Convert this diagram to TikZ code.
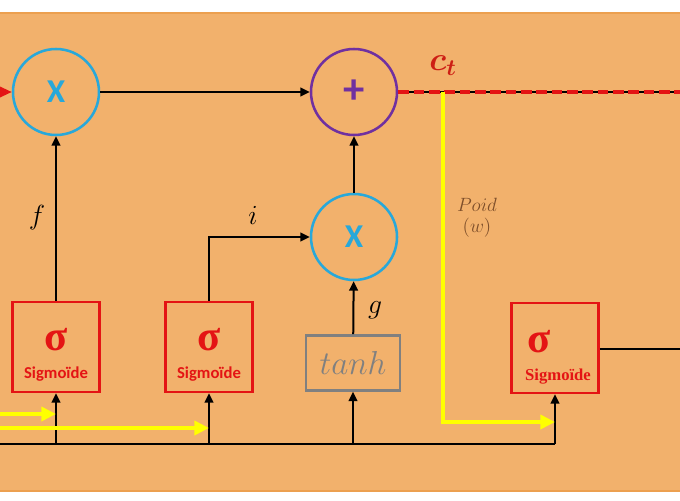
\documentclass[tikz,border=0pt]{standalone}
\usepackage{fontspec}
\usepackage{amsmath}
\usepackage{bm}
\newfontfamily\carlito{Carlito}
\newfontfamily\libserif{Liberation Serif}
\usetikzlibrary{arrows.meta}
\definecolor{bgorange}{RGB}{242,177,108}
\definecolor{bgedge}{RGB}{236,160,80}
\definecolor{cblue}{RGB}{40,168,218}
\definecolor{cpurple}{RGB}{112,48,160}
\definecolor{cred}{RGB}{228,20,20}
\definecolor{cdred}{RGB}{205,30,20}
\definecolor{cgray}{RGB}{128,128,128}
\definecolor{cbrown}{RGB}{125,78,42}
\definecolor{cyellow}{RGB}{255,255,0}
\tikzset{
  opcircle/.style={circle, line width=1.9pt, minimum size=64.5pt, inner sep=0pt},
  sigbox/.style={draw=cred, line width=1.9pt, minimum width=65.25pt, minimum height=67.5pt, inner sep=0pt},
  tanhbox/.style={draw=cgray, line width=1.9pt, minimum width=70.5pt, minimum height=41.25pt, inner sep=0pt},
  conn/.style={line width=1.5pt, black},
  arr/.style={conn, -{Triangle[length=7pt,width=6.5pt]}},
  yarr/.style={line width=3.7pt, cyellow, -{Triangle[length=11pt,width=10.5pt]}},
  mathlbl/.style={font=\fontsize{20}{20}\selectfont, inner sep=0pt},
  sigma/.style={text=cred, font=\libserif\bfseries\fontsize{32}{32}\selectfont, inner sep=0pt},
  sigtxt/.style={text=cred, font=\carlito\bfseries\fontsize{12.5}{12.5}\selectfont, inner sep=0pt},
  sigtxtserif/.style={text=cred, font=\libserif\bfseries\fontsize{12.5}{12.5}\selectfont, inner sep=0pt},
}
\begin{document}
\begin{tikzpicture}[x=0.75pt, y=-0.75pt]
\useasboundingbox (0,0) rectangle (680,500);
\fill[white] (0,0) rectangle (680,500);
\filldraw[fill=bgorange, draw=bgedge, line width=0.8pt] (-5,13) rectangle (685,491);

% operator circles
\node[opcircle, draw=cblue, text=cblue, font=\carlito\bfseries\fontsize{25}{25}\selectfont] (x1) at (56,92) {X};
\node[opcircle, draw=cpurple, text=cpurple, font=\carlito\bfseries\fontsize{32}{32}\selectfont] (plus) at (354,92) {+};
\node[opcircle, draw=cblue, text=cblue, font=\carlito\bfseries\fontsize{25}{25}\selectfont] (x2) at (354,237) {X};

% boxes
\node[sigbox] (s1) at (56,347) {};
\node[sigbox] (s2) at (209,347) {};
\node[sigbox] (s3) at (555,348) {};
\node[tanhbox, text=cgray, font=\fontsize{25}{25}\selectfont] (th) at (353,363) {$tanh$};

% box texts
\node[sigma] (s1a) at (56,340) {σ};
\node[sigtxt] (s1b) at (56,374) {Sigmoïde};
\node[sigma] (s2a) at (209,340) {σ};
\node[sigtxt] (s2b) at (209,374) {Sigmoïde};
\node[sigma] (s3a) at (539,342) {σ};
\node[sigtxtserif] (s3b) at (558,377) {Sigmoïde};

% coordinates
\coordinate (lin) at (-20,92);
\coordinate (rend) at (690,92);
\coordinate (bus0) at (-5,444);
\coordinate (ytop) at (443,92);
\coordinate (yin3) at (555,422);
\coordinate (yl1) at (-5,414);
\coordinate (yl2) at (-5,428);
\coordinate (redge) at (690,349);

% red input arrow (only tip visible)
\draw[line width=1.5pt, cred, -{Triangle[length=9pt,width=8pt]}] (lin) -- (x1.west);

% main connectors
\draw[arr] (x1) -- (plus);
\draw[arr] (x2) -- (plus);
\draw[arr] (th) -- (x2);
\draw[arr] (s1) -- (x1);
\draw[arr] (s2.north) |- (x2.west);

% cell state output (black with red dashes)
\draw[line width=1.3pt, black] (plus.east) -- (rend);
\draw[line width=2.3pt, cred, dash pattern=on 8pt off 3.5pt] (plus.east) -- (rend);

% bottom bus
\draw[conn] (bus0) -- (bus0 -| s3);
\draw[arr] (bus0 -| s1) -- (s1.south);
\draw[arr] (bus0 -| s2) -- (s2.south);
\draw[arr] (bus0 -| th) -- (th.south);
\draw[arr] (bus0 -| s3) -- (s3.south);

% output of third sigmoid
\draw[conn] (s3.east |- redge) -- (redge);

% yellow weights
\draw[yarr] (ytop) |- (yin3);
\draw[yarr] (yl1) -- (yl1 -| s1);
\draw[yarr] (yl2) -- (yl2 -| s2);

% labels
\node[mathlbl] (lf) at (37,218) {$f$};
\node[mathlbl] (li) at (253,215) {$i$};
\node[mathlbl] (lg) at (375,310) {$g$};
\node[text=cdred, font=\fontsize{23}{23}\selectfont, inner sep=0pt] (lc) at (443,66) {$\bm{c_t}$};
\node[text=cbrown, font=\fontsize{15}{15}\selectfont, inner sep=0pt] (lp) at (477,205) {$Poid$};
\node[text=cbrown, font=\fontsize{15}{15}\selectfont, inner sep=0pt] (lw) at (477,228) {$(w)$};
\end{tikzpicture}
\end{document}
